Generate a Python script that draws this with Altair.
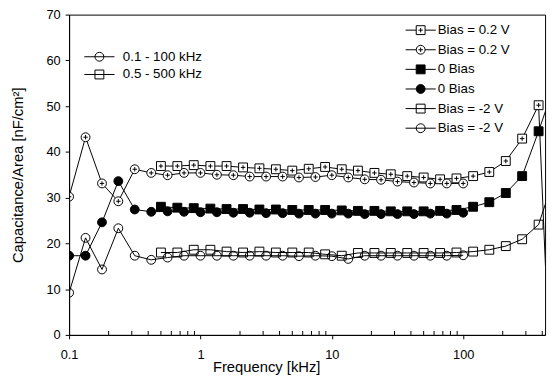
import altair as alt
import pandas as pd

# ---- data ----
freq_circle = [0.1, 0.1334, 0.178, 0.237, 0.316, 0.422, 0.562, 0.75, 1.0, 1.334, 1.78, 2.37,
               3.16, 4.22, 5.62, 7.5, 10.0, 13.34, 17.8, 23.7, 31.6, 42.2, 56.2, 75.0, 100.0]
freq_square = [0.5, 0.667, 0.889, 1.19, 1.58, 2.11, 2.81, 3.75, 5.0, 6.67, 8.89, 11.9,
               15.8, 21.1, 28.1, 37.5, 50.0, 66.7, 88.9, 119.0, 158.0, 211.0, 281.0, 375.0, 500.0]

bias02_square = [36.9, 36.9, 37.1, 36.9, 36.9, 36.6, 36.4, 36.2, 35.9, 36.3, 36.7, 36.2,
                 35.9, 35.4, 35.1, 34.7, 34.4, 34.0, 34.2, 34.7, 35.6, 38.0, 42.9, 50.2, -34.0]
bias02_circle = [30.2, 43.2, 33.1, 29.2, 36.2, 35.4, 34.9, 35.4, 35.4, 35.0, 34.9, 34.6,
                 34.6, 34.6, 34.4, 34.5, 34.9, 34.4, 34.0, 33.9, 33.5, 33.3, 33.1, 33.1, 33.1]
bias0_square = [28.0, 27.8, 27.7, 27.6, 27.5, 27.5, 27.4, 27.4, 27.3, 27.3, 27.3, 27.2,
                27.1, 27.1, 27.0, 27.0, 27.0, 27.1, 27.3, 28.0, 29.0, 31.0, 34.7, 44.5, 55.0]
bias0_circle = [17.3, 17.3, 24.6, 33.6, 27.4, 26.9, 27.0, 26.9, 26.8, 26.8, 26.7, 26.7,
                26.6, 26.6, 26.5, 26.5, 26.5, 26.5, 26.4, 26.4, 26.4, 26.4, 26.5, 26.5, 26.7]
biasm2_square = [18.0, 18.0, 18.6, 18.6, 18.2, 18.0, 18.2, 18.0, 18.0, 18.0, 17.6, 17.3,
                 17.9, 17.9, 17.9, 17.9, 17.9, 17.9, 18.0, 18.2, 18.6, 19.4, 20.9, 24.1, 35.0]
biasm2_circle = [9.2, 21.2, 14.3, 23.3, 17.3, 16.4, 16.9, 17.3, 17.3, 17.3, 17.3, 17.3,
                 17.3, 17.3, 17.2, 17.3, 17.2, 16.6, 17.3, 17.3, 17.3, 17.3, 17.3, 17.3, 17.4]

series_keys = ["Bias = 0.2 V|sq", "Bias = 0.2 V|ci", "0 Bias|sq", "0 Bias|ci",
               "Bias = -2 V|sq", "Bias = -2 V|ci"]
range_keys = ["0.1 - 100 kHz", "0.5 - 500 kHz"]

y_ticks = [0, 10, 20, 30, 40, 50, 60, 70]
x_major = [0.1, 1, 10, 100]
x_minor = [0.2, 0.3, 0.4, 0.5, 0.6, 0.7, 0.8, 0.9, 2, 3, 4, 5, 6, 7, 8, 9,
           20, 30, 40, 50, 60, 70, 80, 90, 200, 300, 400]

rows = []
for key, fr, vals, rk in [
    (series_keys[0], freq_square, bias02_square, range_keys[1]),
    (series_keys[1], freq_circle, bias02_circle, range_keys[0]),
    (series_keys[2], freq_square, bias0_square, range_keys[1]),
    (series_keys[3], freq_circle, bias0_circle, range_keys[0]),
    (series_keys[4], freq_square, biasm2_square, range_keys[1]),
    (series_keys[5], freq_circle, biasm2_circle, range_keys[0]),
]:
    for f, v in zip(fr, vals):
        rows.append({"freq": f, "cap": v, "series": key, "range": rk})
df = pd.DataFrame(rows)
minor_df = pd.DataFrame({"freq": x_minor})

# ---- symbol paths ----
SQ = "M-1,-1H1V1H-1Z"
CI = ("M1,0C1,0.5523,0.5523,1,0,1C-0.5523,1,-1,0.5523,-1,0"
      "C-1,-0.5523,-0.5523,-1,0,-1C0.5523,-1,1,-0.5523,1,0Z")
PLUS = "M-0.5,0H0.5M0,-0.5V0.5"
STUBS = "M-3.4,0H-1M1,0H3.4"
THRU = "M-3.4,0H3.4"

marker_paths = [SQ + PLUS, CI + PLUS, SQ, CI, SQ, CI]
legend_paths = [STUBS + SQ + PLUS, STUBS + CI + PLUS, STUBS + SQ, STUBS + CI,
                THRU + SQ, THRU + CI]
fills = ["white", "white", "black", "black", "transparent", "transparent"]
strokes = ["black"] * 6

FONT = "Liberation Sans"
W, H = 483, 325

xscale = alt.Scale(type="log", domain=[0.1, 420])
yscale = alt.Scale(domain=[-0.01, 70], nice=False, zero=False)

xaxis = alt.Axis(values=x_major, format="~g", grid=False, ticks=True, tickSize=4,
                 tickColor="black", tickWidth=1, domainColor="black", labelColor="black",
                 labelFont=FONT, labelFontSize=13, labelPadding=10, labelFlush=False,
                 title="Frequency [kHz]", titleFont=FONT, titleFontSize=15,
                 titleFontWeight="normal", titleColor="black",
                 titleX=200, titleY=25, titleBaseline="top")
yaxis = alt.Axis(values=y_ticks, grid=False, tickSize=4, tickColor="black",
                 domainColor="black", labelColor="black", labelFont=FONT,
                 labelFontSize=13, labelPadding=5, labelOverlap=False,
                 labelFlush=False, labelBound=False, zindex=2,
                 labelExpr="'' + datum.value",
                 title="Capacitance/Area [nF/cm²]", titleFont=FONT,
                 titleFontSize=15, titleFontWeight="normal",
                 titleColor="black", titleX=-52, titleBaseline="middle")

X = alt.X("freq:Q", scale=xscale, axis=xaxis)
Y = alt.Y("cap:Q", scale=yscale, axis=yaxis)

minor = alt.Chart(minor_df).mark_rule(color="black", strokeWidth=1).encode(
    x=X, y=alt.value(H), y2=alt.value(H - 4)
)

lines = alt.Chart(df).mark_line(color="black", strokeWidth=1, clip=True).encode(
    x=X, y=Y, detail="series:N", order="freq:Q",
)

points = alt.Chart(df).mark_point(filled=False, stroke="black", strokeWidth=1,
                                  size=81, opacity=1, clip=True).encode(
    x=X, y=Y,
    shape=alt.Shape("series:N", scale=alt.Scale(domain=series_keys, range=marker_paths),
                    legend=None),
    fill=alt.Fill("series:N", scale=alt.Scale(domain=series_keys, range=fills),
                  legend=None),
)

leg2_def = alt.Legend(orient="none", legendX=350, legendY=9, title=None,
                      symbolSize=81, symbolStrokeWidth=1, symbolOpacity=1,
                      labelFont=FONT, labelFontSize=13.5, labelColor="black",
                      labelOffset=10.5, rowPadding=4.9, padding=0,
                      labelExpr="split(datum.label, '|')[0]")
leg2 = alt.Chart(df).mark_point(filled=False, strokeWidth=1,
                                size=81, opacity=0).encode(
    x=X, y=Y,
    shape=alt.Shape("series:N", scale=alt.Scale(domain=series_keys, range=legend_paths),
                    legend=leg2_def),
    fill=alt.Fill("series:N", scale=alt.Scale(domain=series_keys, range=fills),
                  legend=leg2_def),
    stroke=alt.Stroke("series:N", scale=alt.Scale(domain=series_keys, range=strokes),
                      legend=leg2_def),
)

leg1_def = alt.Legend(orient="none", legendX=24, legendY=36, title=None,
                      symbolSize=81, symbolStrokeWidth=1, symbolOpacity=1,
                      symbolStrokeColor="black", symbolFillColor="transparent",
                      labelFont=FONT, labelFontSize=13.5, labelColor="black",
                      labelOffset=17, rowPadding=3, padding=0)
leg1 = alt.Chart(df).mark_point(filled=False, stroke="black", strokeWidth=1,
                                fill="transparent", size=81, opacity=0).encode(
    x=X, y=Y,
    shape=alt.Shape("range:N", scale=alt.Scale(domain=range_keys,
                                               range=[THRU + CI, THRU + SQ]),
                    legend=leg1_def),
)

chart = alt.layer(minor, lines, points, leg2, leg1).resolve_scale(
    shape="independent", fill="independent", stroke="independent"
).properties(
    width=W, height=H,
    autosize=alt.AutoSizeParams(type="none"),
    padding={"left": 62, "top": 4, "right": 5, "bottom": 40},
).configure_view(stroke="black", strokeWidth=1)

chart.save("out.html", embed_options={"renderer": "svg", "actions": False})
